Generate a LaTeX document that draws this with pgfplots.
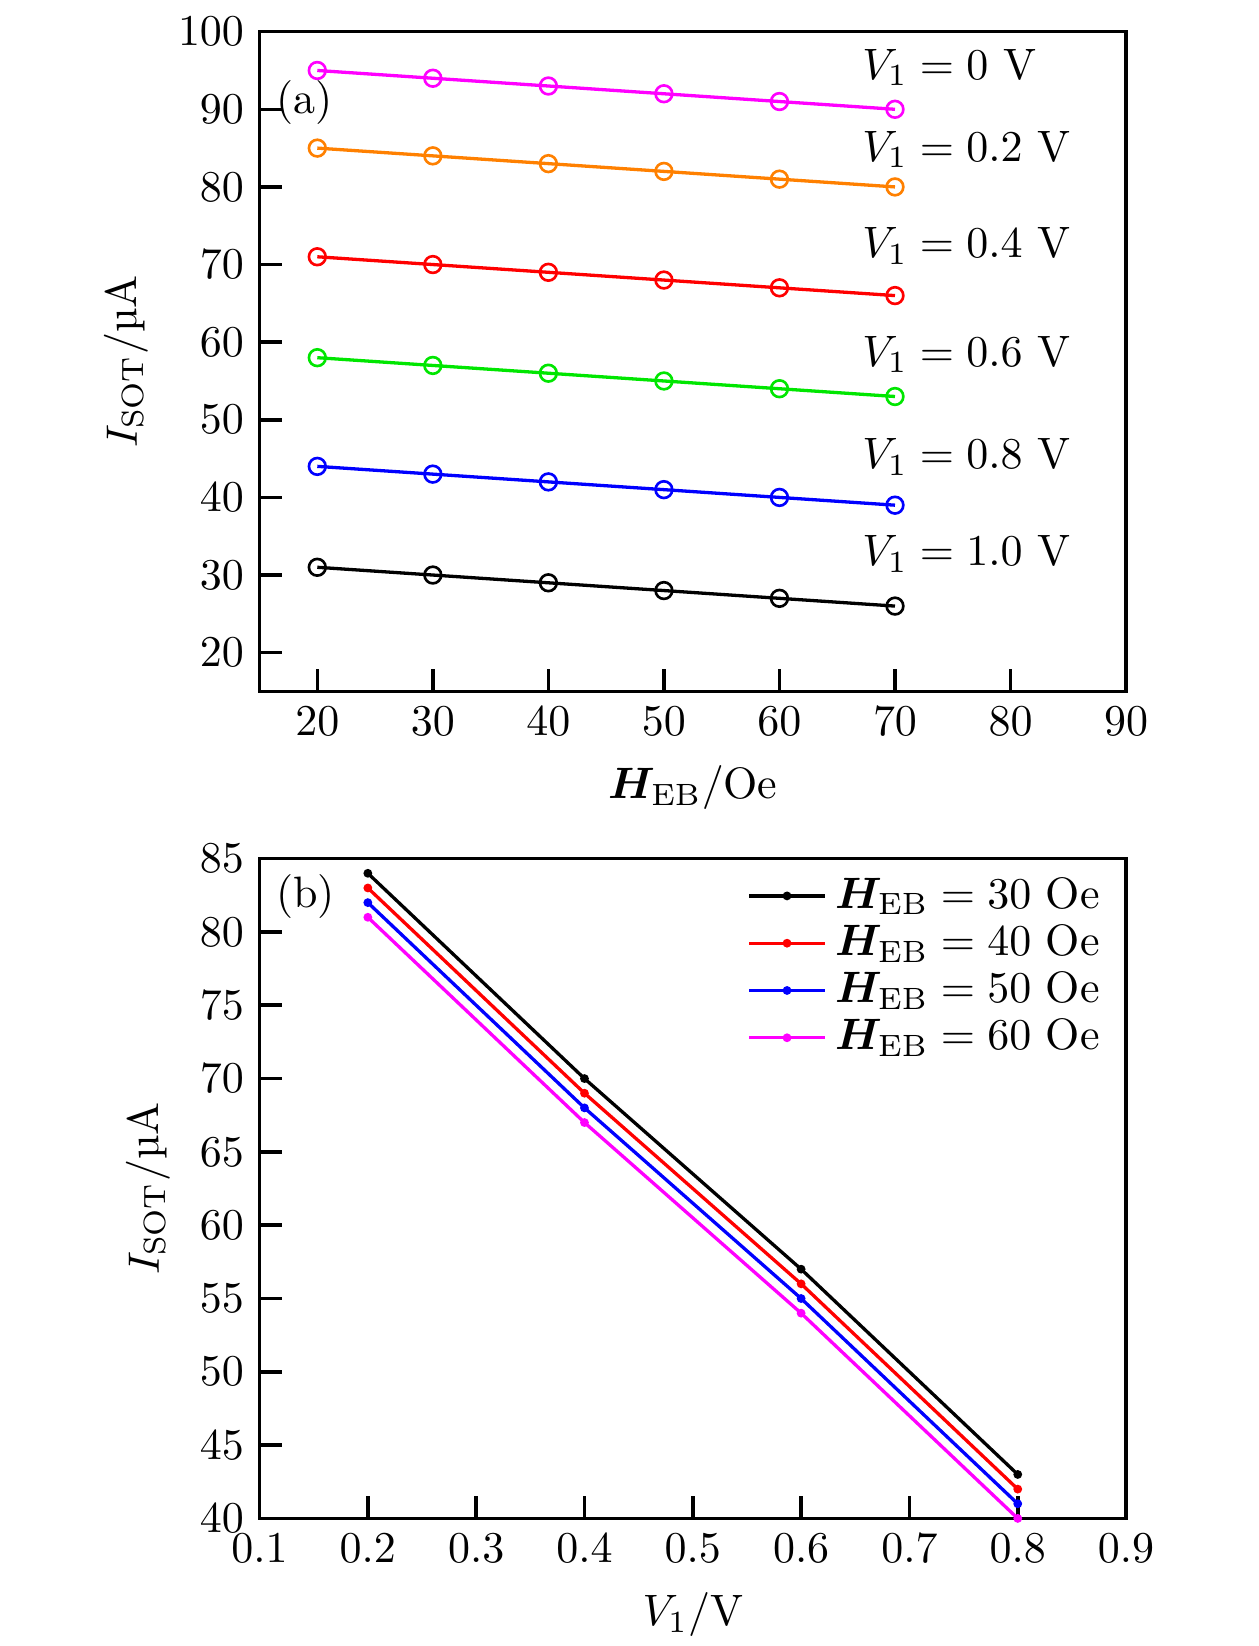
\documentclass[border=0pt]{standalone}
\usepackage{fontspec}
\usepackage{bm}
\usepackage{pgfplots}
\pgfplotsset{compat=1.18}
\definecolor{cmag}{RGB}{255,0,255}
\definecolor{corange}{RGB}{255,128,0}
\definecolor{cred}{RGB}{255,0,0}
\definecolor{cgreen}{RGB}{0,230,0}
\definecolor{cblue}{RGB}{0,0,255}
\pgfplotsset{
  myax/.style={
    scale only axis, width=197pt, height=150pt,
    tick align=inside, xtick pos=bottom, ytick pos=left,
    major tick length=5pt,
    axis line style={line width=0.8pt},
    every tick/.style={black, line width=0.8pt},
    tick label style={font=\normalsize},
  },
  lineA/.style={line width=0.75pt, mark=o, mark size=1.9pt, mark options={solid, line width=0.6pt}},
  lineB/.style={line width=0.75pt, mark=*, mark size=0.6pt},
}
\begin{document}
\begin{tikzpicture}
\useasboundingbox (-59pt,-217pt) rectangle (227pt,157.2pt);
\begin{axis}[myax, at={(0,0)}, anchor=south west,
  xmin=15, xmax=90, ymin=15, ymax=100,
  xtick={20,30,...,90}, ytick={20,30,...,100},
  xlabel={$\bm{H}_{\mathrm{EB}}/\mathrm{Oe}$},
  ylabel={$I_{\mathrm{SOT}}/$\textmu A},
  clip=false]
\addplot[cmag, lineA] coordinates {(20,95) (30,94) (40,93) (50,92) (60,91) (70,90)};
\addplot[corange, lineA] coordinates {(20,85) (30,84) (40,83) (50,82) (60,81) (70,80)};
\addplot[cred, lineA] coordinates {(20,71) (30,70) (40,69) (50,68) (60,67) (70,66)};
\addplot[cgreen, lineA] coordinates {(20,58) (30,57) (40,56) (50,55) (60,54) (70,53)};
\addplot[cblue, lineA] coordinates {(20,44) (30,43) (40,42) (50,41) (60,40) (70,39)};
\addplot[black, lineA] coordinates {(20,31) (30,30) (40,29) (50,28) (60,27) (70,26)};
\node[anchor=west, inner sep=0pt] at (rel axis cs:0.018,0.893) {(a)};
\node[anchor=west, inner sep=0pt] at (axis cs:67.1,95.4) {$V_1 = 0\ \mathrm{V}$};
\node[anchor=west, inner sep=0pt] at (axis cs:67.1,84.8) {$V_1 = 0.2\ \mathrm{V}$};
\node[anchor=west, inner sep=0pt] at (axis cs:67.1,72.4) {$V_1 = 0.4\ \mathrm{V}$};
\node[anchor=west, inner sep=0pt] at (axis cs:67.1,58.4) {$V_1 = 0.6\ \mathrm{V}$};
\node[anchor=west, inner sep=0pt] at (axis cs:67.1,45.2) {$V_1 = 0.8\ \mathrm{V}$};
\node[anchor=west, inner sep=0pt] at (axis cs:67.1,32.7) {$V_1 = 1.0\ \mathrm{V}$};
\end{axis}
\begin{axis}[myax, at={(0,-38pt)}, anchor=north west,
  xmin=0.1, xmax=0.9, ymin=40, ymax=85,
  xtick={0.1,0.2,...,0.9}, ytick={40,45,...,85},
  xticklabel style={/pgf/number format/.cd, fixed, fixed zerofill, precision=1},
  xlabel={$V_1/\mathrm{V}$},
  ylabel={$I_{\mathrm{SOT}}/$\textmu A},
  legend style={draw=none, fill=none, at={(0.996,1.0)}, anchor=north east,
    row sep=-1.8pt, font=\normalsize},
  legend cell align=left,
  clip=false]
\addplot[black, lineB] coordinates {(0.2,84) (0.4,70) (0.6,57) (0.8,43)};
\addlegendentry{$\bm{H}_{\mathrm{EB}} = 30\ \mathrm{Oe}$}
\addplot[cred, lineB] coordinates {(0.2,83) (0.4,69) (0.6,56) (0.8,42)};
\addlegendentry{$\bm{H}_{\mathrm{EB}} = 40\ \mathrm{Oe}$}
\addplot[cblue, lineB] coordinates {(0.2,82) (0.4,68) (0.6,55) (0.8,41)};
\addlegendentry{$\bm{H}_{\mathrm{EB}} = 50\ \mathrm{Oe}$}
\addplot[cmag, lineB] coordinates {(0.2,81) (0.4,67) (0.6,54) (0.8,40)};
\addlegendentry{$\bm{H}_{\mathrm{EB}} = 60\ \mathrm{Oe}$}
\node[anchor=west, inner sep=0pt] at (rel axis cs:0.018,0.943) {(b)};
\end{axis}
\end{tikzpicture}
\end{document}
